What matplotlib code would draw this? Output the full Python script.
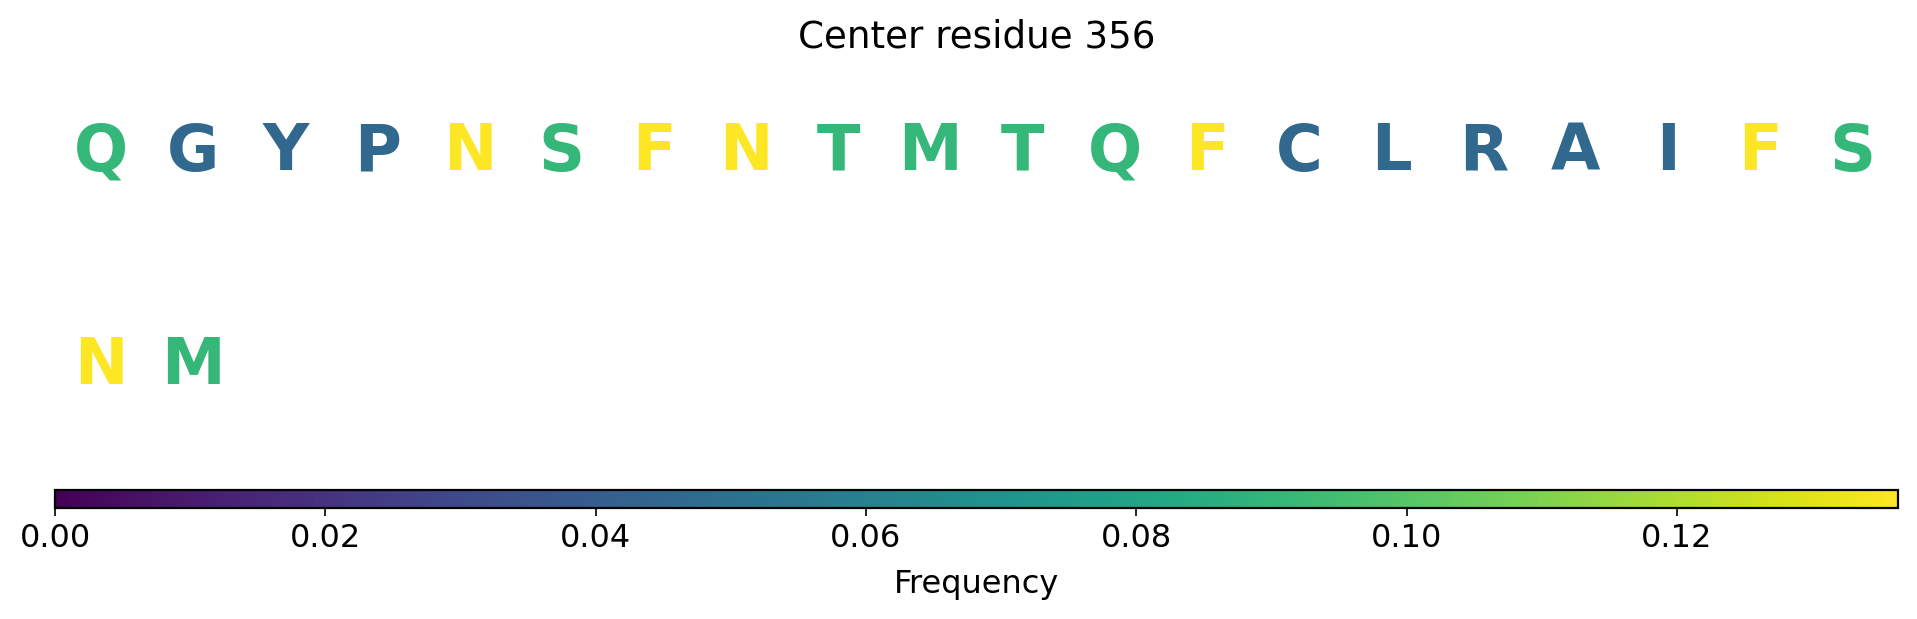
import matplotlib
matplotlib.use("Agg")
import matplotlib.pyplot as plt
import numpy as np
from matplotlib import cm, colors

# Residues in the window (first row: 20, second row: 2)
residues = list("QGYPNSFNTMTQFCLRAIFS") + list("NM")
# Frequency of each residue type among the 22 residues
counts = {"Q": 2, "G": 1, "Y": 1, "P": 1, "N": 3, "S": 2, "F": 3, "T": 2,
          "M": 2, "C": 1, "L": 1, "R": 1, "A": 1, "I": 1}
total = 22
freqs = [counts[r] / total for r in residues]
vmin, vmax = 0.0, max(freqs)
title = "Center residue 356"
n_cols = 20

W, H, DPI = 1917, 619, 100
fig = plt.figure(figsize=(W / DPI, H / DPI), dpi=DPI)

def px_axes(x0, y0, x1, y1):
    return fig.add_axes([x0 / W, 1 - y1 / H, (x1 - x0) / W, (y1 - y0) / H])

cmap = plt.get_cmap("viridis")
norm = colors.Normalize(vmin=vmin, vmax=vmax)

ax = px_axes(55, 46, 1898, 472)
ax.set_xlim(0, n_cols)
n_rows = int(np.ceil(len(residues) / n_cols))
ax.set_ylim(n_rows, 0)
ax.axis("off")
for i, (r, f) in enumerate(zip(residues, freqs)):
    row, col = divmod(i, n_cols)
    ax.text(col + 0.5, row + 0.5, r, ha="center", va="center",
            fontsize=46, fontweight="bold", color=cmap(norm(f)),
            family="DejaVu Sans")

fig.text((55 + 1898) / 2 / W, 1 - 48 / H, title, ha="center", va="baseline",
         fontsize=26.8)

cax = px_axes(55, 490, 1898, 508)
sm = cm.ScalarMappable(norm=norm, cmap=cmap)
cb = fig.colorbar(sm, cax=cax, orientation="horizontal")
cb.set_ticks([0.0, 0.02, 0.04, 0.06, 0.08, 0.10, 0.12])
cb.ax.set_xticklabels(["0.00", "0.02", "0.04", "0.06", "0.08", "0.10", "0.12"])
cb.ax.tick_params(labelsize=23, length=5.8, width=1.2, pad=5)
cb.outline.set_linewidth(1.6)
cb.set_label("Frequency", fontsize=23, labelpad=11)

fig.savefig("out.png", dpi=DPI)
